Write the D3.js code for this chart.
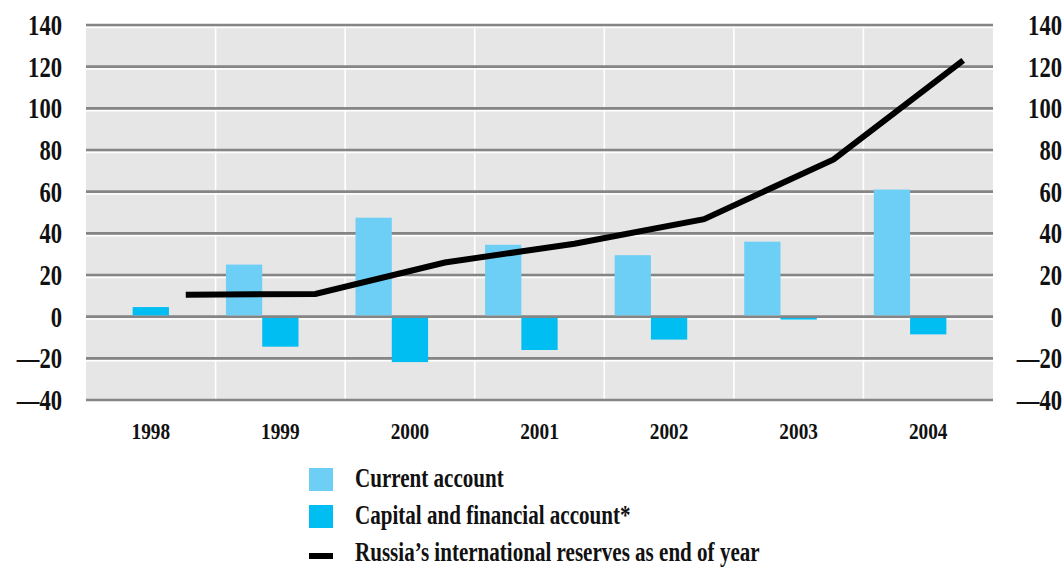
<!DOCTYPE html>
<html>
<head>
<meta charset="utf-8">
<script src="https://cdn.jsdelivr.net/npm/d3@7"></script>
<style>
  body { margin: 0; background: #fff; }
  text { font-family: "Liberation Serif", "DejaVu Serif", serif; font-weight: bold; fill: #111; }
</style>
</head>
<body>
<div id="chart-area"></div>
<script>
var years = ["1998", "1999", "2000", "2001", "2002", "2003", "2004"];
var currentAccount = [null, 25, 47.5, 34.5, 29.5, 36, 61];
var capitalAccount = [4.6, -14.4, -21.8, -16, -11, -1.4, -8.5];
var reserves = [10.5, 10.9, 26, 35, 46.8, 75.5, 123];
var yTicks = [140, 120, 100, 80, 60, 40, 20, 0, -20, -40];
var legendLabels = ["Current account", "Capital and financial account*", "Russia\u2019s international reserves as end of year"];

var lightBlue = "#6dcff6";
var darkBlue = "#00bdf2";
var sx = 0.78;

var svg = d3.select("#chart-area")
  .append("svg")
  .attr("width", 1064)
  .attr("height", 567);

var plotLeft = 86, plotRight = 993, plotTop = 25, plotBottom = 400;

var x = d3.scaleBand()
  .domain(years)
  .range([plotLeft, plotRight]);

var y = d3.scaleLinear()
  .domain([-40, 140])
  .range([plotBottom, plotTop]);

var bw = x.bandwidth();
var barW = bw * 0.28;

// plot background
svg.append("rect")
  .attr("x", plotLeft)
  .attr("y", plotTop)
  .attr("width", plotRight - plotLeft)
  .attr("height", plotBottom - plotTop)
  .attr("fill", "#e6e6e6");

// vertical white separators
svg.selectAll(".vline")
  .data(years.slice(1))
  .enter()
  .append("line")
  .attr("class", "vline")
  .attr("x1", d => x(d))
  .attr("x2", d => x(d))
  .attr("y1", plotTop)
  .attr("y2", plotBottom)
  .attr("stroke", "#fff")
  .attr("stroke-width", 1.6);

// horizontal grid: gray line with white line below
svg.selectAll(".hwhite")
  .data(yTicks.filter(d => d > -40))
  .enter()
  .append("line")
  .attr("class", "hwhite")
  .attr("x1", plotLeft)
  .attr("x2", plotRight)
  .attr("y1", d => y(d) + 2.4)
  .attr("y2", d => y(d) + 2.4)
  .attr("stroke", "#fff")
  .attr("stroke-width", 1.6);

svg.selectAll(".hgray")
  .data(yTicks)
  .enter()
  .append("line")
  .attr("class", "hgray")
  .attr("x1", plotLeft)
  .attr("x2", plotRight)
  .attr("y1", d => y(d))
  .attr("y2", d => y(d))
  .attr("stroke", "#858585")
  .attr("stroke-width", 2.6);

// bars: capital bar centred in the band, current account bar to its left
var rows = years.map((yr, i) => ({ year: yr, cur: currentAccount[i], cap: capitalAccount[i], res: reserves[i] }));

svg.selectAll(".cur")
  .data(rows.filter(d => d.cur != null))
  .enter()
  .append("rect")
  .attr("class", "cur")
  .attr("x", d => x(d.year) + bw / 2 - barW * 1.5)
  .attr("y", d => y(Math.max(0, d.cur)))
  .attr("width", barW)
  .attr("height", d => Math.abs(y(d.cur) - y(0)) - 1.3)
  .attr("fill", lightBlue);

svg.selectAll(".cap")
  .data(rows)
  .enter()
  .append("rect")
  .attr("class", "cap")
  .attr("x", d => x(d.year) + bw / 2 - barW / 2)
  .attr("y", d => d.cap > 0 ? y(d.cap) : y(0) + 1.3)
  .attr("width", barW)
  .attr("height", d => Math.abs(y(d.cap) - y(0)) - 1.3)
  .attr("fill", darkBlue);

// reserves line
var line = d3.line()
  .x(d => x(d.year) + bw * 0.77)
  .y(d => y(d.res));

svg.append("path")
  .datum(rows)
  .attr("d", line)
  .attr("fill", "none")
  .attr("stroke", "#000")
  .attr("stroke-width", 6);

// axes labels
function tickLabel(d) { return d < 0 ? "\u2014" + Math.abs(d) : String(d); }

var yAxisL = d3.axisLeft(y).tickValues(yTicks).tickFormat(tickLabel).tickSize(0);
var gl = svg.append("g").attr("transform", "translate(62,0)").call(yAxisL);
gl.select(".domain").remove();
gl.selectAll("text")
  .attr("x", 0)
  .attr("dy", "0.33em")
  .attr("transform", "scale(" + sx + ",1)")
  .attr("font-size", "29px")
  .attr("font-family", null);

var gr = svg.append("g").attr("transform", "translate(1062,0)").call(yAxisL);
gr.select(".domain").remove();
gr.selectAll("text")
  .attr("x", 0)
  .attr("dy", "0.33em")
  .attr("transform", "scale(" + sx + ",1)")
  .attr("font-size", "29px")
  .attr("font-family", null);

var xAxis = d3.axisBottom(x).tickSize(0);
var gx = svg.append("g").attr("transform", "translate(0,423)").call(xAxis);
gx.select(".domain").remove();
gx.selectAll("text")
  .attr("y", 0)
  .attr("dy", "0.71em")
  .attr("transform", "scale(0.84,1)")
  .attr("font-size", "23px")
  .attr("font-family", null);

// legend
var legend = svg.append("g").attr("transform", "translate(309,468)");
var items = legend.selectAll(".item")
  .data(legendLabels)
  .enter()
  .append("g")
  .attr("class", "item")
  .attr("transform", (d, i) => "translate(0," + i * 37 + ")");

items.filter((d, i) => i < 2)
  .append("rect")
  .attr("width", 24)
  .attr("height", 23)
  .attr("fill", (d, i) => i === 0 ? lightBlue : darkBlue);

items.filter((d, i) => i === 2)
  .append("rect")
  .attr("y", 11)
  .attr("width", 24)
  .attr("height", 6)
  .attr("fill", "#000");

items.append("text")
  .attr("transform", "translate(46,19) scale(" + sx + ",1)")
  .attr("font-size", "27px")
  .text(d => d);
</script>
</body>
</html>
